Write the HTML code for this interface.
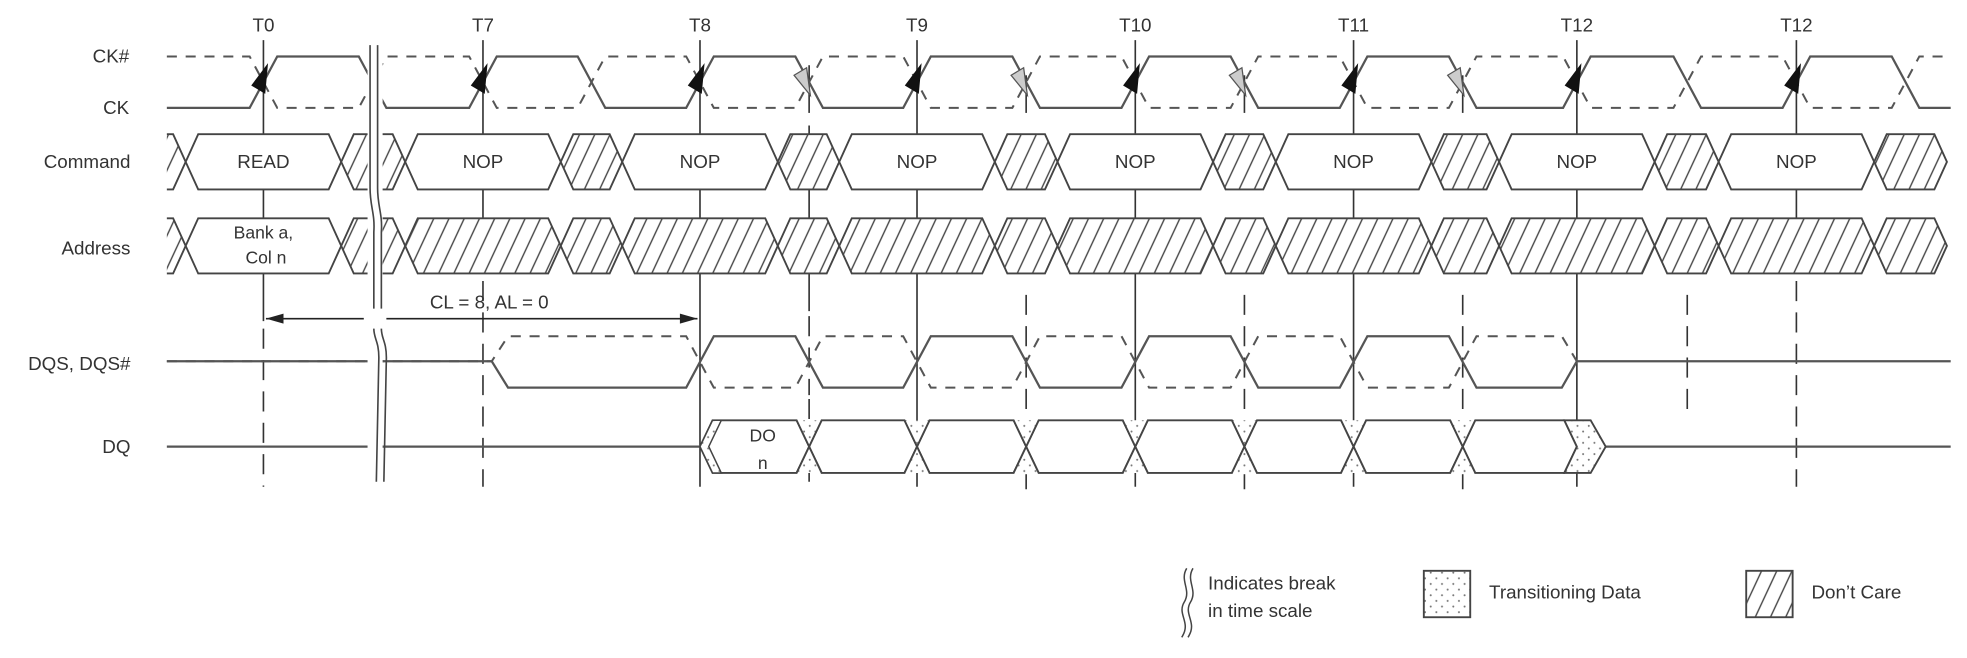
<!DOCTYPE html>
<html><head><meta charset="utf-8"><style>
html,body{margin:0;padding:0;background:#fff;}
svg{display:block;}
text{font-family:"Liberation Sans","DejaVu Sans",sans-serif;fill:#333;}
</style></head><body>
<svg id="s" xmlns="http://www.w3.org/2000/svg" width="1967" height="658" viewBox="0 0 1568 524.5" preserveAspectRatio="none">
<defs>
<pattern id="hatch" patternUnits="userSpaceOnUse" width="11" height="11" patternTransform="rotate(25)">
<rect width="11" height="11" fill="#fff"/>
<line x1="2" y1="-1" x2="2" y2="12" stroke="#444" stroke-width="1.1"/>
</pattern>
<pattern id="dots" patternUnits="userSpaceOnUse" width="9" height="9">
<rect width="9" height="9" fill="#fff"/>
<circle cx="2" cy="2" r="0.8" fill="#777"/><circle cx="6.5" cy="6.5" r="0.8" fill="#777"/>
</pattern>
<clipPath id="clip"><rect x="133" y="0" width="1425" height="524"/></clipPath>
</defs>
<g font-size="15" text-anchor="middle">
<text x="210" y="25">T0</text><text x="385" y="25">T7</text><text x="558" y="25">T8</text>
<text x="731" y="25">T9</text><text x="905" y="25">T10</text><text x="1079" y="25">T11</text>
<text x="1257" y="25">T12</text><text x="1432" y="25">T12</text>
</g>
<g font-size="15" text-anchor="end">
<text x="103" y="50">CK#</text><text x="103" y="91">CK</text>
<text x="104" y="134">Command</text><text x="104" y="203">Address</text>
<text x="104" y="295">DQS, DQS#</text><text x="104" y="361">DQ</text>
</g>
<g id="g" fill="none" stroke="#444" stroke-width="1.5"></g>
<g font-size="15" text-anchor="middle">
<text x="210" y="134">READ</text>
<text x="210" y="190" font-size="14">Bank a,</text><text x="212" y="210" font-size="14">Col n</text>
<text x="385" y="134">NOP</text><text x="558" y="134">NOP</text><text x="731" y="134">NOP</text>
<text x="905" y="134">NOP</text><text x="1079" y="134">NOP</text><text x="1257" y="134">NOP</text><text x="1432" y="134">NOP</text>
<text x="390" y="246">CL = 8, AL = 0</text>
<text x="608" y="352" font-size="14">DO</text><text x="608" y="374" font-size="14">n</text>
</g>
<g font-size="15">
<text x="963" y="470">Indicates break</text><text x="963" y="492">in time scale</text>
<text x="1187" y="477">Transitioning Data</text>
<text x="1444" y="477">Don’t Care</text>
</g>
<rect x="1135" y="455" width="37" height="37" fill="url(#dots)" stroke="#444" stroke-width="1.5"/>
<rect x="1392" y="455" width="37" height="37" fill="url(#hatch)" stroke="#444" stroke-width="1.5"/>
<g fill="none" stroke="#444" stroke-width="1.2">
<path d="M946 453 C940 463 950 470 944 480 C938 490 950 496 942 508"/>
<path d="M951 453 C945 463 955 470 949 480 C943 490 955 496 947 508"/>
</g>
</svg>
<script>
var g=document.getElementById('g'),NS='http://www.w3.org/2000/svg';
function el(t,a,p){var e=document.createElementNS(NS,t);for(var k in a)e.setAttribute(k,a[k]);(p||g).appendChild(e);return e;}
var T=[210,385,558,731,905,1079,1257,1432];
var M=[645,818,992,1166,1345];
// vertical lines
function vl(x,y1,y2,d){var a={x1:x,y1:y1,x2:x,y2:y2,stroke:'#333','stroke-width':1.3};if(d)a['stroke-dasharray']='16 9';el('line',a);}
vl(210,32,256);vl(210,262,388,1);
vl(385,32,218);vl(385,224,388,1);
[558,731,905,1079,1257].forEach(function(x){vl(x,32,388);});
vl(1432,32,218);vl(1432,224,388,1);
vl(645,52,90);vl(645,100,248);vl(645,252,315,1);vl(645,318,388,1);
[818,992,1166].forEach(function(x){vl(x,60,90);vl(x,235,330,1);vl(x,378,390);});
vl(1345,235,330,1);
// clocks
var edges=[[210,1],[297,0],[385,1],[471.5,0],[558,1],[645,0],[731,1],[818,0],[905,1],[992,0],[1079,1],[1166,0],[1257,1],[1345,0],[1432,1],[1519,0]];
function clk(inv){var H=45,L=86,cur=inv?H:L,d='M133 '+cur;edges.forEach(function(e){var v=(e[1]^inv)?H:L;d+=' L'+(e[0]-11)+' '+cur+' L'+(e[0]+11)+' '+v;cur=v;});d+=' L1555 '+cur;return d;}
el('path',{d:clk(0),stroke:'#555','stroke-width':1.8});
el('path',{d:clk(1),stroke:'#555','stroke-width':1.6,'stroke-dasharray':'8 7'});
T.forEach(function(t){el('polygon',{points:(t+3)+',52 '+(t-9)+',68 '+(t+1)+',74',fill:'#111',stroke:'#111','stroke-width':1});});
[645,818,992,1166].forEach(function(m){el('polygon',{points:(m-12)+',60 '+(m-2)+',54 '+(m+1)+',76',fill:'#ccc',stroke:'#555','stroke-width':1});});
// buses
var gc=el('g',{'clip-path':'url(#clip)'});
function hex(a,b,y1,y2,fill,par){var m=(y1+y2)/2,h=10;el('polygon',{points:a+','+m+' '+(a+h)+','+y1+' '+(b-h)+','+y1+' '+b+','+m+' '+(b-h)+','+y2+' '+(a+h)+','+y2,fill:fill,stroke:'#444','stroke-width':1.5},par||g);}
var cr=[100,148];T.forEach(function(t,i){if(i>0)cr.push(t-62);cr.push(t+62);});
cr.splice(2,0); // crossings
var pts=[100];T.forEach(function(t){pts.push(t-62,t+62);});pts.push(1552);
// pts: 100, T0-62, T0+62, T7-62 ...
for(var i=0;i<pts.length-1;i++){
  var valid=(i%2==1);
  hex(pts[i],pts[i+1],107,151,valid?'#fff':'url(#hatch)',gc);
  var av=(i==1);
  hex(pts[i],pts[i+1],174,218,av?'#fff':'url(#hatch)',gc);
}
// DQS
var H=268,L=309,Md=288;
var tg=[558,645,731,818,905,992,1079,1166];
function dqs(inv){var d='M133 '+Md+' L392 '+Md+' L405 '+(inv?H:L);var cur=inv?H:L;
 tg.forEach(function(t){var v=(cur==H)?L:H;d+=' L'+(t-11)+' '+cur+' L'+(t+11)+' '+v;cur=v;});
 d+=' L1245 '+cur+' L1257 '+Md;if(!inv)d+=' L1555 '+Md;return d;}
el('path',{d:dqs(0),stroke:'#555','stroke-width':1.8});
el('path',{d:dqs(1),stroke:'#555','stroke-width':1.6,'stroke-dasharray':'8 7'});
// DQ
el('line',{x1:133,y1:356,x2:558,y2:356,stroke:'#555','stroke-width':1.8});
el('line',{x1:1280,y1:356,x2:1555,y2:356,stroke:'#555','stroke-width':1.8});
var dq=[558,645,731,818,905,992,1079,1166,1257];
for(var j=0;j<dq.length-1;j++){
  hex(dq[j]+(j==0?0:0),dq[j+1],335,377,'#fff');
}
dq.slice(1,8).forEach(function(x){el('polygon',{points:(x-10)+',335 '+(x+10)+',335 '+x+',356',fill:'url(#dots)',stroke:'none'});el('polygon',{points:(x-10)+',377 '+(x+10)+',377 '+x+',356',fill:'url(#dots)',stroke:'none'});el('path',{d:'M'+(x-10)+' 335 L'+(x+10)+' 377 M'+(x+10)+' 335 L'+(x-10)+' 377'});});
el('polygon',{points:'1247,335 1268,335 1280,356 1268,377 1247,377 1257,356',fill:'url(#dots)',stroke:'#444','stroke-width':1.5});
el('polygon',{points:'558,356 568,335 575,335 565,356 575,377 568,377',fill:'url(#dots)',stroke:'#444','stroke-width':1.2});
// CL arrow
el('line',{x1:212,y1:254,x2:556,y2:254,stroke:'#222','stroke-width':1.3});
el('polygon',{points:'212,254 226,250 226,258',fill:'#222',stroke:'none'});
el('polygon',{points:'556,254 542,250 542,258',fill:'#222',stroke:'none'});
// break
el('rect',{x:293,y:36,width:12,height:348,fill:'#fff',stroke:'none'});
el('rect',{x:290,y:246,width:18,height:14,fill:'#fff',stroke:'none'});
['M295 36 L295 150 C295 165 299 170 298 185 L298 246','M301 36 L301 150 C301 165 305 170 304 185 L304 246',
 'M298 262 C298 270 302 272 302 285 L300 384','M304 262 C304 270 308 272 308 285 L306 384'].forEach(function(d){el('path',{d:d,stroke:'#444','stroke-width':1.3});});
</script>
</body></html>
